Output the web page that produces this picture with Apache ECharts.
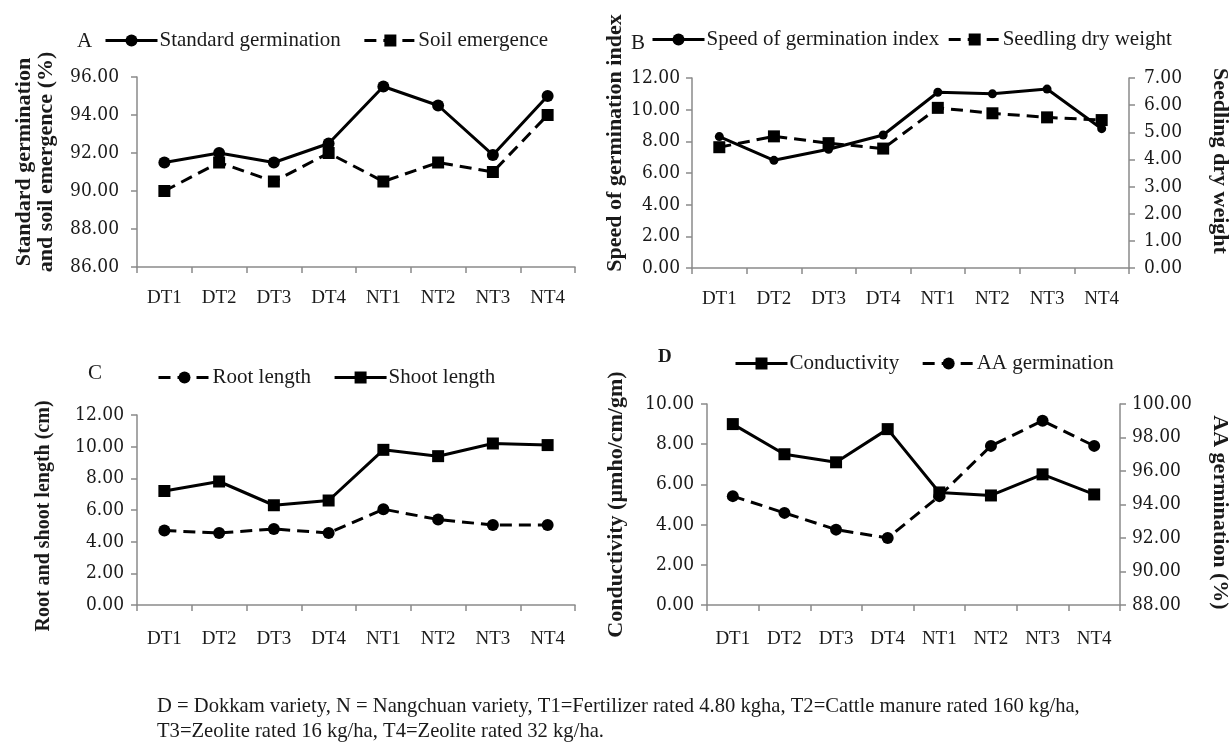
<!DOCTYPE html>
<html>
<head>
<meta charset="utf-8">
<script src="https://cdn.jsdelivr.net/npm/echarts@6/dist/echarts.min.js"></script>
<style>
html,body{margin:0;padding:0;background:#fff;}
#chart{width:1232px;height:744px;}
</style>
</head>
<body>
<div id="chart"></div>
<script>
const categories = ['DT1','DT2','DT3','DT4','NT1','NT2','NT3','NT4'];
const standardGermination = [91.5, 92.0, 91.5, 92.5, 95.5, 94.5, 91.9, 95.0];
const soilEmergence = [90.0, 91.5, 90.5, 92.0, 90.5, 91.5, 91.0, 94.0];
const speedIndex = [8.3, 6.8, 7.5, 8.4, 11.1, 11.0, 11.3, 8.8];
const dryWeight = [4.45, 4.85, 4.6, 4.4, 5.9, 5.7, 5.55, 5.45];
const rootLength = [4.7, 4.55, 4.8, 4.55, 6.05, 5.4, 5.05, 5.05];
const shootLength = [7.2, 7.8, 6.3, 6.6, 9.8, 9.4, 10.2, 10.1];
const conductivity = [9.0, 7.5, 7.1, 8.75, 5.6, 5.45, 6.5, 5.5];
const aaGermination = [94.5, 93.5, 92.5, 92.0, 94.5, 97.5, 99.0, 97.5];
const footnote = 'D = Dokkam variety, N = Nangchuan variety, T1=Fertilizer rated 4.80 kgha, T2=Cattle manure rated 160 kg/ha,\nT3=Zeolite rated 16 kg/ha, T4=Zeolite rated 32 kg/ha.';

const SERIF = "'Liberation Serif', 'Times New Roman', serif";
const COND = "'DejaVu Serif Condensed', 'Liberation Serif', serif";
const TXT = '#1a1a1a';
const AX = '#8a8a8a';

function xAxis(grid,lm){
  return {
    type:'category', gridIndex:grid, data:categories, boundaryGap:true,
    axisLine:{lineStyle:{color:AX,width:1.5}},
    axisTick:{show:true,length:6,lineStyle:{color:AX,width:1.5},alignWithLabel:false},
    axisLabel:{color:TXT,fontFamily:SERIF,fontSize:19,margin:lm}
  };
}
function yAxis(grid,min,max,interval,name,gap,pos,rot,fs,pad,lm){
  return {
    type:'value', gridIndex:grid, min:min, max:max, interval:interval, position:pos||'left',
    name:name, nameLocation:'middle', nameGap:gap, nameRotate:rot,
    nameTextStyle:{color:TXT,fontFamily:SERIF,fontSize:fs,fontWeight:'bold',lineHeight:22,padding:pad},
    axisLine:{show:true,lineStyle:{color:AX,width:1.5}},
    axisTick:{show:true,length:6,lineStyle:{color:AX,width:1.5}},
    splitLine:{show:false},
    axisLabel:{color:TXT,fontFamily:COND,fontSize:19,margin:lm,formatter:v=>v.toFixed(2)}
  };
}
function line(name,data,xi,yi,dashed,symbol,size){
  return {
    name:name,type:'line',xAxisIndex:xi,yAxisIndex:yi,data:data,
    symbol:symbol,symbolSize:size,showSymbol:true,
    lineStyle:{color:'#000',width:3,type:dashed?[12,7]:'solid'},
    itemStyle:{color:'#000'},
    emphasis:{disabled:true},animation:false
  };
}
const legendBase = {
  itemWidth:52,itemHeight:15,itemGap:22,
  lineStyle:{width:3},
  textStyle:{color:TXT,fontFamily:SERIF,fontSize:21,padding:[0,0,0,-3]}
};
const letterStyle = {color:TXT,fontFamily:SERIF,fontSize:21,fontWeight:'normal'};

const option = {
  backgroundColor:'#fff',
  animation:false,
  title:[
    {text:'A',left:72,top:26,textStyle:letterStyle},
    {text:'B',left:626,top:28,textStyle:letterStyle},
    {text:'C',left:83,top:358,textStyle:letterStyle},
    {text:'D',left:653,top:343,textStyle:{color:TXT,fontFamily:SERIF,fontSize:19,fontWeight:'bold'}},
    {text:footnote,left:152,top:689,textStyle:{color:TXT,fontFamily:SERIF,fontSize:20.6,fontWeight:'normal',lineHeight:25}}
  ],
  legend:[
    Object.assign({},legendBase,{left:99,top:25,data:['Standard germination','Soil emergence']}),
    Object.assign({},legendBase,{left:646,top:24,itemGap:8,data:['Speed of germination index','Seedling dry weight']}),
    Object.assign({},legendBase,{left:152,top:362,data:['Root length','Shoot length']}),
    Object.assign({},legendBase,{left:729,top:348,data:['Conductivity','AA germination']})
  ],
  grid:[
    {left:137,top:77,width:438,height:190},
    {left:692,top:78,width:437,height:190},
    {left:137,top:415,width:438,height:190},
    {left:707,top:404,width:413,height:201}
  ],
  xAxis:[xAxis(0,22),xAxis(1,22),xAxis(2,25),xAxis(3,25)],
  yAxis:[
    yAxis(0,86,96,2,'Standard germination\nand soil emergence (%)',80,'left',90,22,[0,0,0,20],18),
    yAxis(1,0,12,2,'Speed of germination index',66,'left',90,22,[0,0,0,60],12),
    yAxis(1,0,7,1,'Seedling dry weight',80,'right',-90,22,[0,24,0,0],15),
    yAxis(2,0,12,2,'Root and shoot length (cm)',82,'left',90,20,[0,12,0,0],13),
    yAxis(3,0,10,2,'Conductivity (\u00b5mho/cm/gm)',80,'left',90,22,[0,0,0,0],13),
    yAxis(3,88,100,2,'AA germination (%)',89,'right',-90,22,[0,0,0,16],12)
  ],
  series:[
    line('Standard germination',standardGermination,0,0,false,'circle',12),
    line('Soil emergence',soilEmergence,0,0,true,'rect',12),
    line('Speed of germination index',speedIndex,1,1,false,'circle',9),
    line('Seedling dry weight',dryWeight,1,2,true,'rect',12),
    line('Root length',rootLength,2,3,true,'circle',12),
    line('Shoot length',shootLength,2,3,false,'rect',12),
    line('Conductivity',conductivity,3,4,false,'rect',12),
    line('AA germination',aaGermination,3,5,true,'circle',12)
  ]
};
const chart = echarts.init(document.getElementById('chart'),null,{renderer:'canvas'});
chart.setOption(option);
</script>
</body>
</html>
